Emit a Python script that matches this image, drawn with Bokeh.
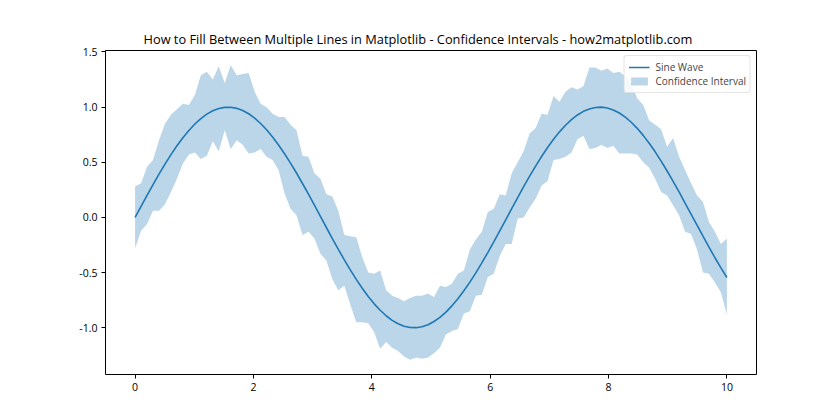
import numpy as np
from bokeh.plotting import figure
from bokeh.models import Legend, LegendItem, FixedTicker, Range1d, PrintfTickFormatter
from bokeh.embed import file_html
from bokeh.resources import INLINE

x_start, x_stop, n_points = 0, 10, 100
x = np.linspace(x_start, x_stop, n_points)

sine = [0.000, 0.101, 0.201, 0.298, 0.393, 0.484, 0.570, 0.650, 0.723, 0.789,
        0.847, 0.896, 0.937, 0.967, 0.988, 0.998, 0.999, 0.989, 0.970, 0.940,
        0.901, 0.852, 0.795, 0.730, 0.657, 0.578, 0.493, 0.403, 0.308, 0.211,
        0.111, 0.010, -0.091, -0.191, -0.289, -0.384, -0.475, -0.561, -0.642, -0.716,
        -0.783, -0.841, -0.891, -0.933, -0.964, -0.986, -0.998, -0.999, -0.991, -0.972,
        -0.943, -0.905, -0.858, -0.801, -0.737, -0.665, -0.586, -0.502, -0.412, -0.318,
        -0.221, -0.121, -0.021, 0.080, 0.180, 0.279, 0.374, 0.466, 0.553, 0.634,
        0.709, 0.776, 0.836, 0.887, 0.929, 0.962, 0.984, 0.997, 1.000, 0.992,
        0.974, 0.947, 0.909, 0.863, 0.808, 0.744, 0.673, 0.595, 0.511, 0.421,
        0.328, 0.231, 0.131, 0.031, -0.070, -0.170, -0.269, -0.365, -0.457, -0.544]

upper = [0.28, 0.31, 0.46, 0.52, 0.70, 0.85, 0.93, 0.98, 1.03, 1.02,
         1.11, 1.29, 1.32, 1.25, 1.37, 1.22, 1.38, 1.29, 1.30, 1.31,
         1.14, 1.03, 1.00, 0.94, 0.91, 0.91, 0.84, 0.79, 0.56, 0.55,
         0.40, 0.35, 0.21, 0.19, 0.06, -0.16, -0.17, -0.18, -0.36, -0.50,
         -0.51, -0.48, -0.66, -0.71, -0.73, -0.76, -0.73, -0.71, -0.71, -0.69,
         -0.72, -0.62, -0.63, -0.60, -0.51, -0.48, -0.29, -0.20, -0.13, 0.05,
         0.08, 0.21, 0.20, 0.40, 0.50, 0.60, 0.76, 0.81, 0.94, 0.93,
         1.10, 1.05, 1.14, 1.18, 1.16, 1.19, 1.36, 1.36, 1.33, 1.35,
         1.31, 1.32, 1.28, 1.22, 1.08, 1.02, 0.88, 0.84, 0.80, 0.64,
         0.72, 0.55, 0.43, 0.31, 0.20, 0.14, -0.04, -0.13, -0.24, -0.19]

lower = [-0.28, -0.12, -0.06, 0.06, 0.06, 0.12, 0.23, 0.35, 0.49, 0.57,
         0.59, 0.53, 0.56, 0.69, 0.60, 0.79, 0.62, 0.70, 0.66, 0.58,
         0.59, 0.62, 0.55, 0.52, 0.43, 0.22, 0.08, 0.02, -0.16, -0.13,
         -0.19, -0.33, -0.39, -0.56, -0.66, -0.62, -0.79, -0.95, -0.95, -0.96,
         -1.04, -1.19, -1.13, -1.18, -1.21, -1.26, -1.29, -1.27, -1.28, -1.27,
         -1.23, -1.18, -1.06, -1.03, -1.01, -0.87, -0.85, -0.71, -0.70, -0.54,
         -0.51, -0.35, -0.24, -0.24, -0.01, 0.00, 0.09, 0.17, 0.29, 0.33,
         0.52, 0.53, 0.55, 0.59, 0.71, 0.74, 0.62, 0.63, 0.66, 0.63,
         0.65, 0.58, 0.58, 0.58, 0.57, 0.50, 0.45, 0.35, 0.23, 0.20,
         0.11, 0.02, -0.13, -0.15, -0.29, -0.50, -0.51, -0.59, -0.68, -0.88]

x_ticks = [0, 2, 4, 6, 8, 10]
y_ticks = [-1.0, -0.5, 0.0, 0.5, 1.0, 1.5]

title = "How to Fill Between Multiple Lines in Matplotlib - Confidence Intervals - how2matplotlib.com"
FONT = "Open Sans"
BLUE = "#1f77b4"

ymin = min(lower); ymax = max(upper)
ypad = 0.05 * (ymax - ymin)
xpad = 0.05 * (x_stop - x_start)

p = figure(width=840, height=420, output_backend="svg", toolbar_location=None,
           frame_width=651, frame_height=324,
           x_range=Range1d(x_start - xpad, x_stop + xpad),
           y_range=Range1d(ymin - ypad, ymax + ypad),
           min_border_left=105, min_border_right=84, min_border_top=50, min_border_bottom=46)

p.title.text = title
p.title.align = "left"
p.title.text_font = FONT
p.title.text_font_size = "12.8px"
p.title.text_font_style = "normal"
p.title.text_color = "black"
p.title.offset = 38
p.title.standoff = 5

band = p.varea(x=x, y1=lower, y2=upper, fill_color=BLUE, fill_alpha=0.3)
line = p.line(x=x, y=sine, line_color=BLUE, line_width=1.6)

p.xgrid.visible = False
p.ygrid.visible = False
p.outline_line_color = "black"
p.outline_line_width = 1
p.outline_line_alpha = 1
p.background_fill_color = "white"
p.border_fill_color = "white"

for ax in (p.xaxis[0], p.yaxis[0]):
    ax.axis_line_color = None
    ax.major_tick_out = 4
    ax.major_tick_in = 0
    ax.minor_tick_line_color = None
    ax.major_tick_line_color = "black"
    ax.major_label_text_font = FONT
    ax.major_label_text_font_size = "10.5px"
    ax.major_label_text_color = "black"
    ax.major_label_standoff = 4

p.xaxis[0].ticker = FixedTicker(ticks=x_ticks)
p.yaxis[0].ticker = FixedTicker(ticks=y_ticks)
p.yaxis[0].formatter = PrintfTickFormatter(format="%.1f")

legend = Legend(items=[LegendItem(label="Sine Wave", renderers=[line]),
                       LegendItem(label="Confidence Interval", renderers=[band])],
                location="top_right")
legend.label_text_font = FONT
legend.label_text_font_size = "10px"
legend.label_height = 14
legend.glyph_height = 10
legend.glyph_width = 21
legend.spacing = 0
legend.padding = 4
legend.margin = 5
legend.label_standoff = 6
legend.border_line_color = "#cccccc"
legend.border_line_width = 1
legend.background_fill_alpha = 0.85
legend.border_radius = 3
p.add_layout(legend)

open("out.html", "w").write(file_html(p, INLINE))
